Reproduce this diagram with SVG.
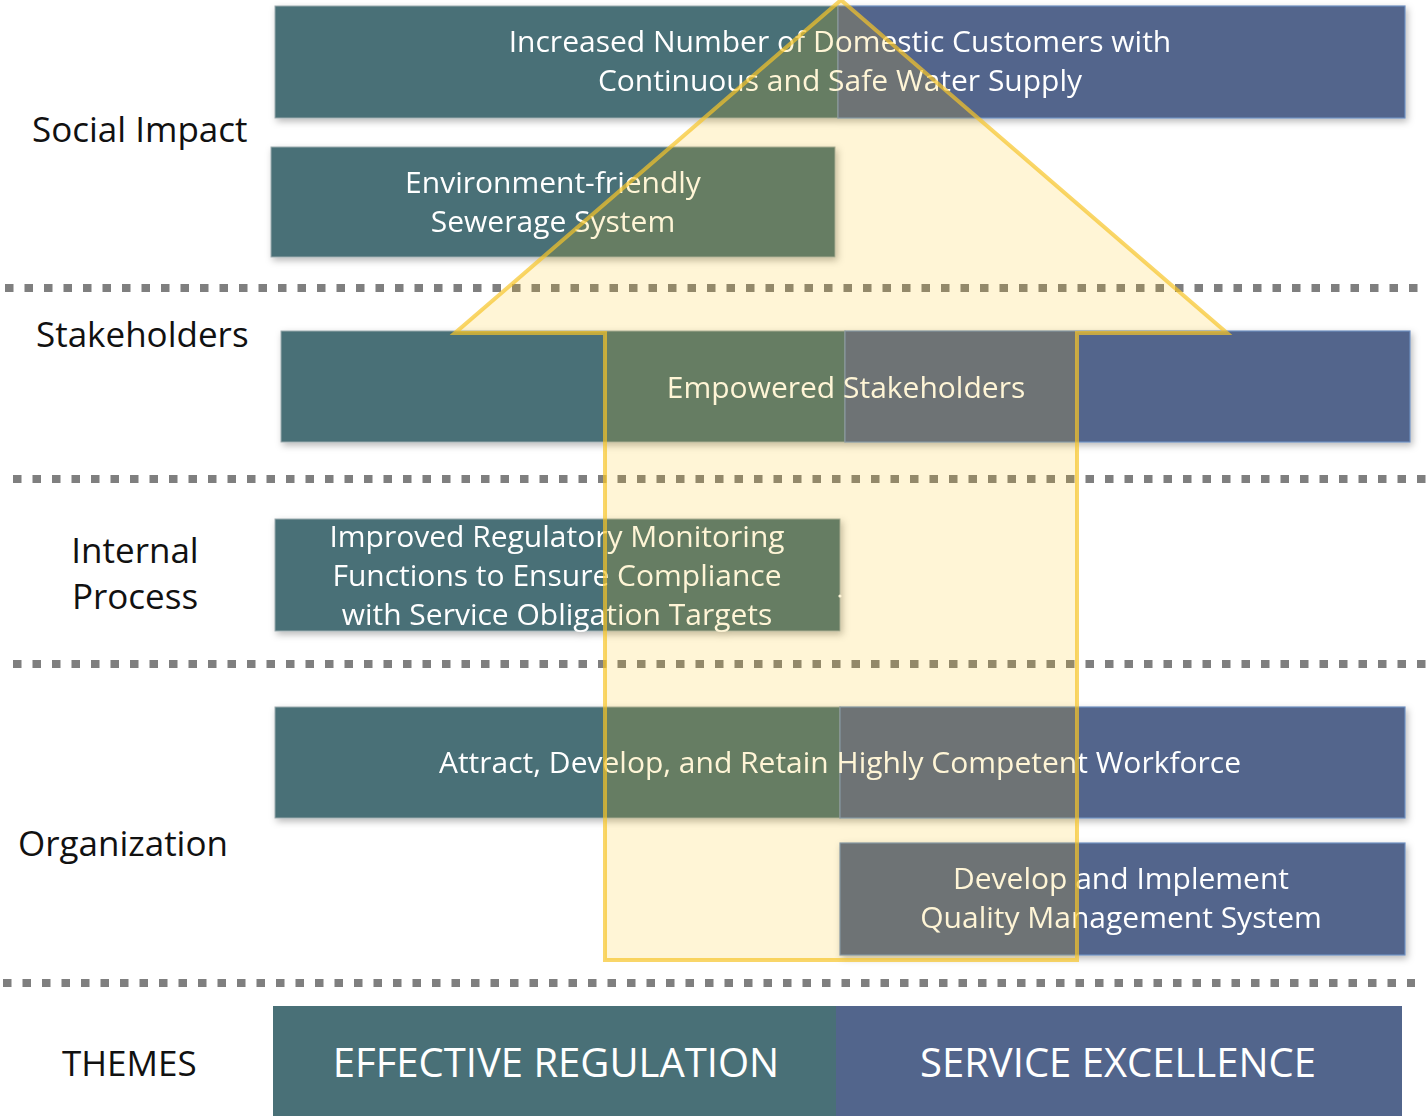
<svg xmlns="http://www.w3.org/2000/svg" width="1428" height="1116" viewBox="0 0 1428 1116">
  <style>
    .teal { fill: #497077; stroke: #9aa9ad; stroke-width: 1; }
    .blue { fill: #52658c; stroke: #6f8fc0; stroke-width: 1.2; }
    .lbl { font-family: "Open Sans", "Liberation Sans", sans-serif; font-size: 35px; fill: #111; }
    .txt { font-family: "Open Sans", "Liberation Sans", sans-serif; font-size: 30px; fill: #ffffff; text-anchor: middle; }
    .theme { font-family: "Open Sans", "Liberation Sans", sans-serif; font-size: 40px; fill: #ffffff; text-anchor: middle; }
    .dots { stroke: #7f7f7f; stroke-width: 8; stroke-dasharray: 8.5 11; fill: none; }
    .dotshadow { stroke: #c8c8c8; stroke-width: 18; fill: none; opacity: 0.55; }
  </style>
  <defs>
    <filter id="shadow" x="-5%" y="-20%" width="110%" height="140%">
      <feDropShadow dx="2" dy="3" stdDeviation="3.5" flood-color="#000" flood-opacity="0.28"/>
    </filter>
    <filter id="haze" x="-2%" y="-200%" width="104%" height="500%">
      <feGaussianBlur stdDeviation="4"/>
    </filter>
  </defs>

  <rect width="1428" height="1116" fill="#ffffff"/>

  <!-- row separators -->
  <g id="separators">
    <line class="dotshadow" x1="5" y1="289" x2="1420" y2="289" filter="url(#haze)"/>
    <line class="dots" x1="5" y1="288" x2="1420" y2="288"/>
    <line class="dotshadow" x1="13" y1="480" x2="1428" y2="480" filter="url(#haze)"/>
    <line class="dots" x1="13" y1="479" x2="1428" y2="479"/>
    <line class="dotshadow" x1="13" y1="665" x2="1428" y2="665" filter="url(#haze)"/>
    <line class="dots" x1="13" y1="664" x2="1428" y2="664"/>
    <line class="dotshadow" x1="3" y1="984" x2="1415" y2="984" filter="url(#haze)"/>
    <line class="dots" x1="3" y1="983" x2="1415" y2="983"/>
  </g>

  <!-- row labels -->
  <g id="row-labels">
    <text class="lbl" x="32" y="142">Social Impact</text>
    <text class="lbl" x="36" y="347">Stakeholders</text>
    <text class="lbl" x="135" y="563" text-anchor="middle">Internal</text>
    <text class="lbl" x="135" y="609" text-anchor="middle">Process</text>
    <text class="lbl" x="18" y="856">Organization</text>
    <text class="lbl" x="62" y="1076">THEMES</text>
  </g>

  <g id="customers" filter="url(#shadow)">
    <rect class="teal" x="275" y="6" width="563" height="112"/>
    <rect class="blue" x="838" y="6" width="567" height="112"/>
    <text class="txt" x="840" y="52">Increased Number of Domestic Customers with</text>
    <text class="txt" x="840" y="91">Continuous and Safe Water Supply</text>
  </g>

  <g id="sewerage" filter="url(#shadow)">
    <rect class="teal" x="271" y="147" width="564" height="110"/>
    <text class="txt" x="553" y="193">Environment-friendly</text>
    <text class="txt" x="553" y="232">Sewerage System</text>
  </g>

  <g id="stakeholders" filter="url(#shadow)">
    <rect class="teal" x="281" y="331" width="564" height="111"/>
    <rect class="blue" x="845" y="331" width="565" height="111"/>
    <text class="txt" x="846" y="398">Empowered Stakeholders</text>
  </g>

  <g id="monitoring" filter="url(#shadow)">
    <rect class="teal" x="275" y="519" width="565" height="112"/>
    <text class="txt" x="557" y="547">Improved Regulatory Monitoring</text>
    <text class="txt" x="557" y="586">Functions to Ensure Compliance</text>
    <text class="txt" x="557" y="625">with Service Obligation Targets</text>
  </g>
  <circle cx="840" cy="596" r="1.6" fill="#ffffff"/>

  <g id="workforce" filter="url(#shadow)">
    <rect class="teal" x="275" y="707" width="565" height="111"/>
    <rect class="blue" x="840" y="707" width="565" height="111"/>
    <text class="txt" x="840" y="773">Attract, Develop, and Retain Highly Competent Workforce</text>
  </g>

  <g id="quality" filter="url(#shadow)">
    <rect class="blue" x="840" y="843" width="565" height="112"/>
    <text class="txt" x="1121" y="889">Develop and Implement</text>
    <text class="txt" x="1121" y="928">Quality Management System</text>
  </g>

  <g id="themes">
    <rect x="273" y="1006" width="563" height="110" fill="#497077"/>
    <rect x="836" y="1006" width="566" height="110" fill="#52658c"/>
    <text class="theme" x="556" y="1077">EFFECTIVE REGULATION</text>
    <text class="theme" x="1118" y="1077">SERVICE EXCELLENCE</text>
  </g>

  <!-- upward arrow overlay -->
  <g id="arrow">
    <polygon points="841,0 1227,333 1077,333 1077,960 605,960 605,333 455,333"
             fill="#ffc000" fill-opacity="0.16" stroke="#f7c52a" stroke-opacity="0.7" stroke-width="4" stroke-linejoin="miter"/>
  </g>
</svg>
